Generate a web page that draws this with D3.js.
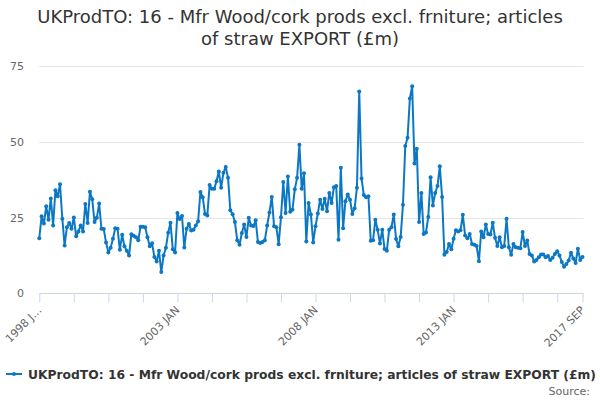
<!DOCTYPE html>
<html>
<head>
<meta charset="utf-8">
<script src="https://cdn.jsdelivr.net/npm/d3@7"></script>
<style>
  body { margin: 0; background: #fff; }
  svg { display: block; font-family: "DejaVu Sans", sans-serif; }
</style>
</head>
<body>
<svg id="chart" width="600" height="400"></svg>
<script>
// Monthly values, 1998 JAN .. 2017 SEP (£m)
const startYear = 1998;
const monthNames = ["JAN", "FEB", "MAR", "APR", "MAY", "JUN", "JUL", "AUG", "SEP", "OCT", "NOV", "DEC"];

const values1998to2002 = [
  18.2, 25.4, 23, 28.7, 24.3, 31.3, 22.4, 34, 32, 36, 24.6, 15.8,
  21.8, 23.2, 21.3, 25, 18.8, 20.4, 22.4, 20.4, 29.5, 23.2, 33.5, 31,
  23.5, 24.9, 29.6, 21.3, 21.2, 16.8, 13.5, 15, 18, 21.5, 21.3, 14.4,
  19.3, 15.5, 14, 12.5, 19.5, 19, 18.5, 17.5, 22, 22, 21.8, 18.5,
  15.5, 16.5, 12, 10.5, 14, 7, 12.5, 15, 20, 23.3, 14.5, 13.5
];
const values2003to2007 = [
  26.5, 24.5, 25.5, 15.1, 21.3, 22.9, 20.7, 21, 22.4, 23.8, 33.4, 31.7,
  26.2, 25.7, 35.7, 34.5, 34.5, 37, 40.2, 34.8, 39.8, 41.7, 38.1, 27.4,
  26.1, 23.5, 17.5, 16, 19.9, 22.7, 18.6, 24.9, 22.4, 22.2, 24.1, 16.9,
  16.6, 16.9, 17.5, 22.4, 26.7, 31.8, 22.1, 21.8, 16.2, 25.1, 36.7, 26.5,
  38.5, 26.9, 27.6, 34.3, 38.1, 49, 34.5, 39.6, 17.1, 29.8, 26, 16.8
];
const values2008to2012 = [
  22.1, 26.3, 30.9, 27.8, 31.2, 27.1, 33.1, 29.8, 35, 35.4, 17.7, 41.4,
  21.5, 30.4, 32.6, 30.9, 26.2, 28.1, 34.8, 66.6, 37.9, 32.4, 31.7, 32,
  17.3, 17.5, 24.3, 21, 16.4, 21, 14.6, 14, 21, 21.8, 26, 17.9,
  15.5, 18.6, 29.2, 48.6, 51.3, 64.3, 68.3, 42.8, 47.7, 23.5, 33.1, 19.6,
  20.1, 25.2, 38.3, 29, 33.1, 35.4, 41.9, 31.8, 12.7, 13.6, 16.3, 14.5
];
const values2013to2017 = [
  18, 20.8, 20.4, 20.8, 25.9, 19.1, 18.2, 19.6, 16.3, 16, 15.6, 10.6,
  20.4, 18.5, 22.7, 19.6, 19.4, 23.3, 18.3, 15.6, 18.5, 15.2, 15.6, 24.6,
  15.2, 12.7, 16.3, 15.2, 15, 14.9, 20.2, 15.6, 17.4, 13, 12.5, 10.5,
  11, 11.9, 12.8, 12.8, 11.9, 12.3, 11, 11.7, 13, 13.9, 12.5, 10.3,
  8.8, 9.7, 10.8, 13.4, 11.5, 10, 14.7, 11, 12
];
const values = [].concat(values1998to2002, values2003to2007, values2008to2012, values2013to2017);

const yTicks = [0, 25, 50, 75];
const xTickMonths = [0, 15, 30, 45, 60, 75, 90, 105, 120, 135, 150, 165, 180, 195, 210, 225, 236];
const xLabelMonths = [0, 60, 120, 180, 236];

const titleLines = [
  "UKProdTO: 16 - Mfr Wood/cork prods excl. frniture; articles",
  "of straw EXPORT (£m)"
];
const seriesName = "UKProdTO: 16 - Mfr Wood/cork prods excl. frniture; articles of straw EXPORT (£m)";

const lineColor = "#0c78c4";
const axisColor = "#ccd6eb";

function monthLabel(i) {
  const y = startYear + Math.floor(i / 12);
  const label = `${y} ${monthNames[i % 12]}`;
  return i === 0 ? "1998 J…" : label;
}

const svg = d3.select("#chart");
const plot = { left: 39.3, right: 582.5, top: 66, bottom: 293.3 };

const x = d3.scaleLinear().domain([0, values.length - 1]).range([plot.left, plot.right]);
const y = d3.scaleLinear().domain([0, 75]).range([plot.bottom, plot.top]);

// Title
svg.append("g")
  .selectAll("text")
  .data(titleLines)
  .join("text")
  .attr("x", 300)
  .attr("y", (d, i) => 23 + i * 21.5)
  .attr("text-anchor", "middle")
  .style("font-size", "18px")
  .style("fill", "#333333")
  .text(d => d);

// Grid lines
svg.append("g")
  .selectAll("line")
  .data(yTicks.filter(d => d > 0))
  .join("line")
  .attr("x1", plot.left)
  .attr("x2", plot.right + 1)
  .attr("y1", d => Math.round(y(d)) + 0.5)
  .attr("y2", d => Math.round(y(d)) + 0.5)
  .style("stroke", "#e6e6e6")
  .style("stroke-width", 1);

// Y labels
svg.append("g")
  .selectAll("text")
  .data(yTicks)
  .join("text")
  .attr("x", 24)
  .attr("y", d => y(d) + 4)
  .attr("text-anchor", "end")
  .style("font-size", "11px")
  .style("fill", "#666666")
  .text(d => d);

// X axis
const xAxis = d3.axisBottom(x)
  .tickValues(xTickMonths)
  .tickSize(9)
  .tickFormat("");

const xAxisG = svg.append("g")
  .attr("transform", `translate(0,${Math.round(plot.bottom) + 0.5})`)
  .call(xAxis);
xAxisG.select(".domain").attr("stroke", axisColor).attr("d", `M${plot.left},0H${plot.right + 1}`);
xAxisG.selectAll(".tick line").attr("stroke", axisColor);

svg.append("g")
  .selectAll("text")
  .data(xLabelMonths)
  .join("text")
  .attr("transform", d => `translate(${x(d) + 3},${plot.bottom + 17.5}) rotate(-45)`)
  .attr("text-anchor", "end")
  .style("font-size", "11px")
  .style("fill", "#666666")
  .text(d => monthLabel(d));

// Series
const line = d3.line()
  .x((d, i) => x(i))
  .y(d => y(d));

svg.append("path")
  .datum(values)
  .attr("d", line)
  .style("fill", "none")
  .style("stroke", lineColor)
  .style("stroke-width", 2)
  .style("stroke-linejoin", "round");

svg.append("g")
  .selectAll("circle")
  .data(values)
  .join("circle")
  .attr("cx", (d, i) => x(i))
  .attr("cy", d => y(d))
  .attr("r", 2)
  .style("fill", lineColor);

// Legend
const legend = svg.append("g").attr("transform", "translate(0,374)");
legend.append("line")
  .attr("x1", 6).attr("x2", 22)
  .attr("y1", 0).attr("y2", 0)
  .style("stroke", lineColor)
  .style("stroke-width", 2);
legend.append("circle")
  .attr("cx", 14).attr("cy", 0).attr("r", 2)
  .style("fill", lineColor);
legend.append("text")
  .attr("x", 28)
  .attr("y", 4.5)
  .style("font-size", "12.3px")
  .style("font-weight", "bold")
  .style("fill", "#333333")
  .text(seriesName);

// Credits
svg.append("text")
  .attr("x", 590)
  .attr("y", 395)
  .attr("text-anchor", "end")
  .style("font-size", "11px")
  .style("fill", "#666666")
  .text("Source:");
</script>
</body>
</html>
